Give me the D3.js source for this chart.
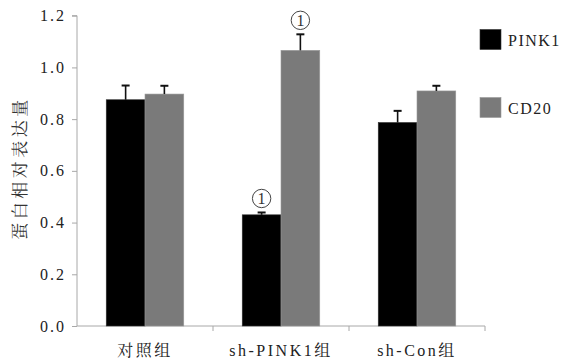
<!DOCTYPE html>
<html><head><meta charset="utf-8">
<script src="https://cdn.jsdelivr.net/npm/d3@7"></script>
<style>body{margin:0;background:#fff}svg{display:block}</style>
</head><body>
<svg id="c" width="567" height="361"></svg>
<script>
const categories = ["对照组", "sh-PINK1组", "sh-Con组"];
const seriesNames = ["PINK1", "CD20"];
const pink1 = [0.875, 0.43, 0.787];
const cd20 = [0.897, 1.066, 0.909];
const pink1Err = [0.055, 0.009, 0.045];
const cd20Err = [0.032, 0.062, 0.02];
const marks = [[false, true, false], [false, true, false]];
const yTicks = [0, 0.2, 0.4, 0.6, 0.8, 1.0, 1.2];
const colors = ["#000000", "#7a7a7a"];

(function () {
const SERIF = "Liberation Serif, Tinos, Times New Roman, DejaVu Serif, serif";
const CJK = "Liberation Serif, Tinos, Noto Serif CJK SC, Noto Sans CJK SC, serif";
const svg = d3.select("#c");
const mLeft = 77, mRight = 485, mTop = 15, mBottom = 326;
const x = d3.scaleBand().domain(categories).range([mLeft, mRight]).paddingInner(0.43).paddingOuter(0.215);
const x0 = d3.scaleBand().domain(categories).range([mLeft, mRight]);
const sub = d3.scaleBand().domain(seriesNames).range([0, x.bandwidth()]);
const y = d3.scaleLinear().domain([0, 1.2]).range([mBottom, mTop + 0.7]);

const axisColor = "#a8a8a8";

const yAxis = svg.append("g").attr("transform", `translate(${mLeft},0)`)
  .call(d3.axisLeft(y).tickValues(yTicks).tickFormat(d3.format(".1f")).tickSize(5).tickPadding(6));
yAxis.attr("font-family", null);
yAxis.select(".domain").attr("stroke", axisColor).attr("d", `M-5,${y(1.2)}H0V${mBottom}`);
yAxis.selectAll(".tick line").attr("stroke", axisColor);
yAxis.selectAll(".tick text").style("font-family", SERIF).attr("font-size", 16).attr("fill", "#222")
  .attr("letter-spacing", 2);

const xAxis = svg.append("g").attr("transform", `translate(0,${mBottom})`)
  .call(d3.axisBottom(x0).tickSize(0).tickPadding(19));
xAxis.attr("font-family", null);
xAxis.select(".domain").attr("stroke", axisColor).attr("d", `M${mLeft},0H${mRight}`);
xAxis.selectAll(".tick text").style("font-family", CJK).attr("font-size", 16).attr("fill", "#222")
  .attr("letter-spacing", 2.5);
const bounds = [mLeft + x0.step(), mLeft + 2 * x0.step(), mRight];
svg.append("g").selectAll("line").data(bounds).join("line")
  .attr("x1", d => d).attr("x2", d => d).attr("y1", mBottom).attr("y2", mBottom + 5)
  .attr("stroke", axisColor);

const data = [pink1, cd20];
const errs = [pink1Err, cd20Err];
seriesNames.forEach((s, si) => {
  const g = svg.append("g");
  categories.forEach((c, ci) => {
    const v = data[si][ci], e = errs[si][ci];
    const bx = x(c) + sub(s), bw = sub.bandwidth();
    g.append("rect").attr("x", bx).attr("y", y(v)).attr("width", bw).attr("height", y(0) - y(v))
      .attr("fill", colors[si]).attr("stroke", si ? "#9a9a9a" : "#333").attr("stroke-width", 0.6);
    const cx = bx + bw / 2;
    g.append("line").attr("x1", cx).attr("x2", cx).attr("y1", y(v)).attr("y2", y(v + e))
      .attr("stroke", "#111").attr("stroke-width", 1.6);
    g.append("line").attr("x1", cx - 4).attr("x2", cx + 4).attr("y1", y(v + e)).attr("y2", y(v + e))
      .attr("stroke", "#111").attr("stroke-width", 2);
    if (marks[si][ci]) {
      const cy = y(v + e) - 14;
      g.append("circle").attr("cx", cx).attr("cy", cy).attr("r", 9.2)
        .attr("fill", "none").attr("stroke", "#444").attr("stroke-width", 1);
      g.append("text").style("font-family", SERIF).attr("x", cx).attr("y", cy + 5.5).attr("text-anchor", "middle")
        .attr("font-size", 16).attr("fill", "#333").text("1");
    }
  });
});

svg.append("text").attr("transform", `translate(26,${168}) rotate(-90)`)
  .attr("text-anchor", "middle").style("font-family", "Noto Serif CJK SC, Noto Sans CJK SC, sans-serif")
  .attr("font-size", 17).attr("fill", "#333").attr("letter-spacing", 3.5).text("蛋白相对表达量");

const lg = svg.append("g");
seriesNames.forEach((s, i) => {
  const ly = 29.5 + i * 68;
  lg.append("rect").attr("x", 480).attr("y", ly).attr("width", 21).attr("height", 20)
    .attr("fill", colors[i]).attr("stroke", i ? "#999" : "#333").attr("stroke-width", 0.6);
  lg.append("text").style("font-family", SERIF).attr("x", 508).attr("y", ly + 16.5)
    .attr("font-size", 16).attr("fill", "#222").attr("letter-spacing", 1.5).text(s);
});
})();
</script>
</body></html>
